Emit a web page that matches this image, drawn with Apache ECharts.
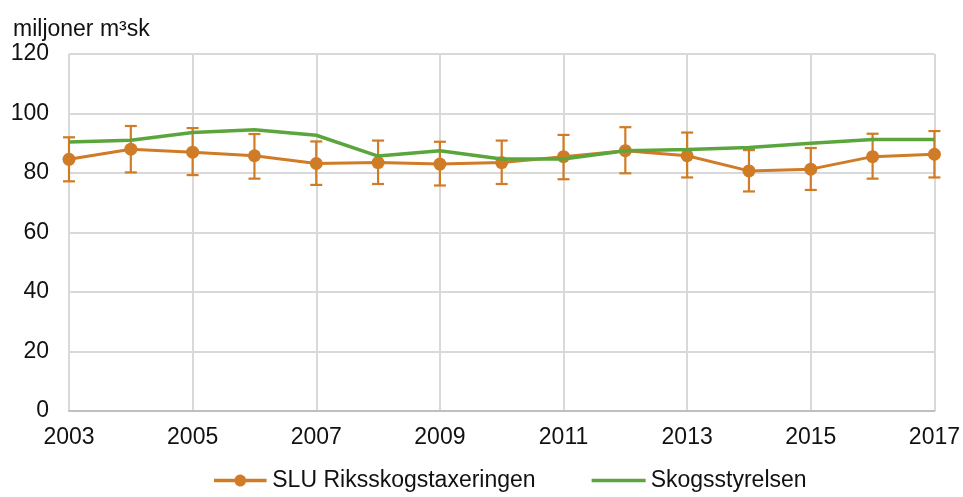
<!DOCTYPE html>
<html>
<head>
<meta charset="utf-8">
<script src="https://cdn.jsdelivr.net/npm/echarts@6/dist/echarts.min.js"></script>
<style>
  html, body { margin: 0; padding: 0; background: #fff; }
  #chart { width: 963px; height: 497px; }
</style>
</head>
<body>
<div id="chart"></div>
<script>
const years = ['2003', '2004', '2005', '2006', '2007', '2008', '2009', '2010',
  '2011', '2012', '2013', '2014', '2015', '2016', '2017'];
// SLU Riksskogstaxeringen, with confidence interval
const sluValues = [84.6, 88.0, 87.0, 85.8, 83.2, 83.5, 83.0, 83.5, 85.5, 87.5, 85.8, 80.7, 81.3, 85.5, 86.3];
const sluLow = [77.2, 80.2, 79.3, 78.1, 76.0, 76.3, 75.8, 76.3, 77.9, 79.9, 78.5, 73.8, 74.3, 78.1, 78.5];
const sluHigh = [92.0, 95.8, 95.1, 93.1, 90.6, 90.9, 90.5, 90.9, 92.8, 95.4, 93.6, 87.7, 88.4, 93.2, 94.1];
// Skogsstyrelsen
const skogsValues = [90.4, 91.0, 93.6, 94.5, 92.7, 85.7, 87.5, 84.7, 84.7, 87.5, 87.9, 88.6, 90.0, 91.3, 91.3];

const ORANGE = '#d07b25';
const GREEN = '#5ba63c';
const FONT = '"Liberation Sans", Arial, sans-serif';

const errorData = years.map((y, i) => [i, sluLow[i], sluHigh[i]]);

const chart = echarts.init(document.getElementById('chart'));
chart.setOption({
  animation: false,
  backgroundColor: '#fff',
  textStyle: { fontFamily: FONT },
  title: {
    text: 'miljoner m³sk',
    left: 8,
    top: 13,
    textStyle: { fontFamily: FONT, fontSize: 23, fontWeight: 'normal', color: '#111' },
  },
  legend: {
    left: 209,
    bottom: 0,
    itemWidth: 54,
    itemHeight: 12,
    itemGap: 56,
    data: [
      { name: 'SLU Riksskogstaxeringen', icon: 'path://M0,4.3H21.2A6,6 0 0 1 32.8,4.3H54V7.7H32.8A6,6 0 0 1 21.2,7.7H0Z' },
      { name: 'Skogsstyrelsen', icon: 'path://M0,0H54V3.5H0Z' },
    ],
    textStyle: { fontFamily: FONT, fontSize: 23, color: '#111' },
  },
  grid: { left: 69, right: 28, top: 54, bottom: 86 },
  xAxis: {
    type: 'category',
    data: years,
    boundaryGap: false,
    axisLine: { lineStyle: { color: '#bfbfbf', width: 2 } },
    axisTick: { show: false },
    axisLabel: { interval: 1, fontSize: 23, color: '#111', margin: 15, fontFamily: FONT },
    splitLine: { show: true, interval: 1, lineStyle: { color: '#d9d9d9', width: 2 } },
  },
  yAxis: {
    type: 'value',
    min: 0,
    max: 120,
    interval: 20,
    axisLine: { show: false },
    axisTick: { show: false },
    axisLabel: { fontSize: 23, color: '#111', margin: 20, fontFamily: FONT },
    splitLine: { lineStyle: { color: '#d9d9d9', width: 2 } },
  },
  series: [
    {
      name: 'errors',
      type: 'custom',
      data: errorData,
      z: 1,
      renderItem: function (params, api) {
        const idx = api.value(0);
        const lo = api.coord([idx, api.value(1)]);
        const hi = api.coord([idx, api.value(2)]);
        const half = 6;
        const style = { stroke: ORANGE, lineWidth: 2.2 };
        return {
          type: 'group',
          children: [
            { type: 'line', shape: { x1: lo[0], y1: lo[1], x2: hi[0], y2: hi[1] }, style: style },
            { type: 'line', shape: { x1: lo[0] - half, y1: lo[1], x2: lo[0] + half, y2: lo[1] }, style: style },
            { type: 'line', shape: { x1: hi[0] - half, y1: hi[1], x2: hi[0] + half, y2: hi[1] }, style: style },
          ],
        };
      },
    },
    {
      name: 'SLU Riksskogstaxeringen',
      type: 'line',
      data: sluValues,
      z: 2,
      symbol: 'circle',
      symbolSize: 13,
      color: ORANGE,
      itemStyle: { color: ORANGE },
      lineStyle: { color: ORANGE, width: 3 },
    },
    {
      name: 'Skogsstyrelsen',
      type: 'line',
      data: skogsValues,
      z: 3,
      symbol: 'none',
      color: GREEN,
      itemStyle: { color: GREEN },
      lineStyle: { color: GREEN, width: 3.5 },
    },
  ],
});
</script>
</body>
</html>
